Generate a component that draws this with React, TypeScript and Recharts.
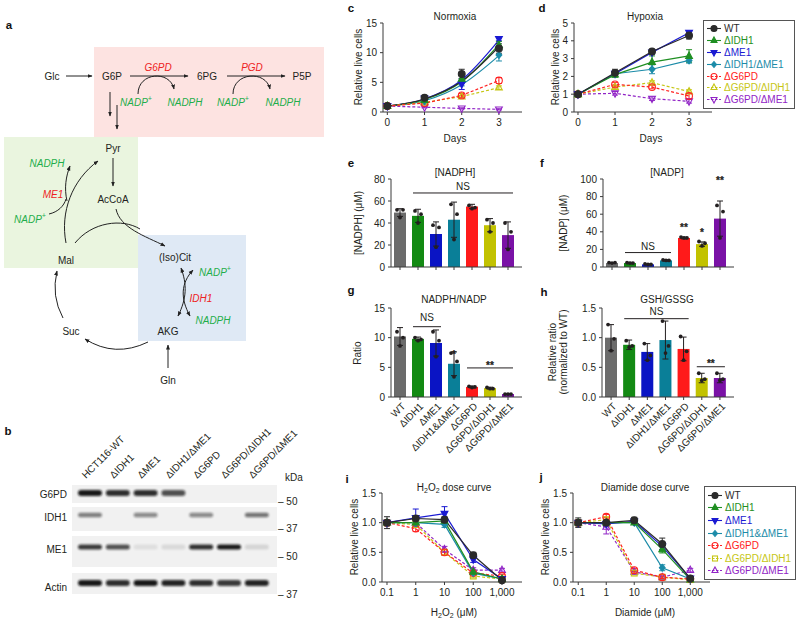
import React from 'react';
import {
  ComposedChart, Line, Bar, Cell, XAxis, YAxis, ErrorBar,
  ReferenceLine, ReferenceDot, Legend,
} from 'recharts';

const FONT = '"Liberation Sans", Arial, Helvetica, sans-serif';
const INK = '#231f20';
const AXIS = '#3a3a3a';
const GREEN = '#1fae4b';
const RED = '#ee2222';

// series order everywhere: WT, ΔIDH1, ΔME1, ΔIDH1/ΔME1, ΔG6PD, ΔG6PD/ΔIDH1, ΔG6PD/ΔME1
const KEYS = ['wt', 'idh1', 'me1', 'dko', 'g6pd', 'g6pdIdh1', 'g6pdMe1'];

// c – normoxia growth
const days = [0, 1, 2, 3];
const normoxiaMean = [
  [1, 2.4, 6.4, 10.7],
  [1, 2.0, 5.6, 11.3],
  [1, 2.3, 4.7, 12.3],
  [1, 1.8, 5.0, 9.6],
  [1, 1.5, 2.8, 5.3],
  [1, 1.6, 2.6, 4.1],
  [1, 0.8, 0.6, 0.45],
];
const normoxiaSd = [
  [0.1, 0.3, 0.8, 0.8],
  [0.1, 0.2, 0.6, 0.6],
  [0.1, 0.3, 0.9, 0.3],
  [0.1, 0.2, 0.6, 1.0],
  [0.1, 0.2, 0.3, 0.5],
  [0.1, 0.2, 0.2, 0.3],
  [0.05, 0.1, 0.1, 0.1],
];
// exponential fits drawn for the solid series
const normoxiaFit = [
  [1, 2.2, 5.2, 11.0],
  [1, 2.1, 5.1, 11.4],
  [1, 2.2, 5.4, 12.1],
  [1, 1.9, 4.6, 9.5],
];

// d – hypoxia growth
const hypoxiaMean = [
  [1, 2.2, 3.4, 4.3],
  [1, 2.1, 2.8, 3.15],
  [1, 2.15, 3.35, 4.45],
  [1, 2.15, 2.4, 2.9],
  [1, 1.55, 1.4, 0.9],
  [1, 1.4, 1.65, 1.15],
  [1, 1.05, 0.75, 0.6],
];
const hypoxiaSd = [
  [0.05, 0.2, 0.1, 0.2],
  [0.05, 0.15, 0.35, 0.35],
  [0.05, 0.1, 0.1, 0.1],
  [0.05, 0.1, 0.25, 0.15],
  [0.05, 0.1, 0.1, 0.15],
  [0.05, 0.1, 0.1, 0.1],
  [0.05, 0.1, 0.1, 0.1],
];

// i, j – dose curves
const doses = [0.1, 1, 10, 100, 1000];
const h2o2Mean = [
  [1.0, 1.07, 1.05, 0.45, 0.03],
  [1.0, 1.0, 1.03, 0.17, 0.05],
  [1.0, 1.08, 1.15, 0.38, 0.05],
  [1.0, 1.0, 0.97, 0.15, 0.05],
  [1.0, 0.9, 0.5, 0.15, 0.1],
  [1.0, 0.97, 0.5, 0.1, 0.05],
  [1.0, 1.0, 0.55, 0.2, 0.2],
];
const h2o2Sd = [
  [0.1, 0.05, 0.05, 0.05, 0.02],
  [0.05, 0.05, 0.03, 0.03, 0.02],
  [0.05, 0.15, 0.12, 0.05, 0.02],
  [0.05, 0.05, 0.05, 0.03, 0.02],
  [0.05, 0.05, 0.05, 0.03, 0.03],
  [0.05, 0.05, 0.04, 0.03, 0.02],
  [0.05, 0.05, 0.05, 0.04, 0.03],
];
const diamideMean = [
  [1.0, 1.0, 1.04, 0.64, 0.06],
  [1.0, 1.0, 1.0, 0.55, 0.04],
  [1.0, 0.98, 1.02, 0.6, 0.06],
  [1.0, 1.0, 1.0, 0.24, 0.05],
  [1.0, 1.1, 0.2, 0.08, 0.05],
  [1.0, 1.05, 0.15, 0.08, 0.04],
  [1.0, 0.93, 0.17, 0.08, 0.2],
];
const diamideSd = [
  [0.08, 0.05, 0.05, 0.1, 0.02],
  [0.05, 0.05, 0.03, 0.06, 0.02],
  [0.05, 0.05, 0.03, 0.05, 0.02],
  [0.05, 0.03, 0.03, 0.05, 0.02],
  [0.05, 0.04, 0.03, 0.02, 0.02],
  [0.05, 0.04, 0.03, 0.02, 0.02],
  [0.05, 0.12, 0.03, 0.02, 0.03],
];

// e–h bar panels
const catsG = ['WT', 'ΔIDH1', 'ΔME1', 'ΔIDH1&ΔME1', 'ΔG6PD', 'ΔG6PD/ΔIDH1', 'ΔG6PD/ΔME1'];
const catsH = ['WT', 'ΔIDH1', 'ΔME1', 'ΔIDH1/ΔME1', 'ΔG6PD', 'ΔG6PD/ΔIDH1', 'ΔG6PD/ΔME1'];
const nadphMean = [49.5, 46.5, 30, 43, 55, 38, 29];
const nadphSd = [3.5, 6, 11, 16, 2, 6, 12];
const nadphPts = [[52, 52, 45], [51, 48, 40], [38, 36, 18], [57, 48, 25], [56, 54, 53], [43, 40, 32], [40, 32, 16]];
const nadpMean = [4.5, 4.5, 3, 7.5, 33, 26, 55];
const nadpSd = [0.5, 0.8, 0.5, 0.8, 1, 2.5, 20];
const nadpPts = [[5, 5, 4.5], [5, 4.5, 4.5], [3.5, 3, 3], [8, 7.5, 7.5], [34, 33, 33], [29, 27, 24], [70, 63, 33]];
const ratioMean = [10.2, 9.8, 9.1, 5.6, 1.7, 1.5, 0.5];
const ratioSd = [1.5, 0.3, 2.2, 2.0, 0.15, 0.15, 0.05];
const ratioPts = [[11, 10, 8.6], [10, 9.7, 9.5], [11, 9.5, 6.8], [7.4, 6, 3.4], [1.8, 1.7, 1.6], [1.6, 1.4, 1.4], [0.5, 0.5, 0.5]];
const gshMean = [1.0, 0.88, 0.76, 0.96, 0.81, 0.32, 0.32];
const gshSd = [0.22, 0.08, 0.14, 0.32, 0.2, 0.08, 0.08];
const gshPts = [[1.22, 0.98, 0.78], [0.95, 0.86, 0.84], [0.9, 0.7, 0.62], [1.28, 0.86, 0.74], [1.02, 0.77, 0.62], [0.4, 0.3, 0.28], [0.4, 0.3, 0.28]];

const nadphBrackets = [{ from: 'ΔIDH1', to: 'ΔG6PD/ΔME1', y: 67.3, text: 'NS', gap: 2.7 }];
const nadpBrackets = [{ from: 'ΔIDH1', to: 'ΔIDH1&ΔME1', y: 16.4, text: 'NS', gap: 2.4 }];
const nadpStars = [{ at: 'ΔG6PD', y: 45.2, text: '**' }, { at: 'ΔG6PD/ΔIDH1', y: 39, text: '*' }, { at: 'ΔG6PD/ΔME1', y: 97.8, text: '**' }];
const ratioBrackets = [{ from: 'ΔIDH1', to: 'ΔME1', y: 11.85, text: 'NS', gap: 5.7 }, { from: 'ΔG6PD', to: 'ΔG6PD/ΔME1', y: 4.9, text: '**', gap: -1 }];
const ratioStars = [{ at: 'ΔIDH1&ΔME1', y: 7.25, text: '*' }];
const gshBrackets = [{ from: 'ΔIDH1', to: 'ΔG6PD', y: 1.32, text: 'NS', gap: 3.7 }, { from: 'ΔG6PD/ΔIDH1', to: 'ΔG6PD/ΔME1', y: 0.51, text: '**', gap: 0 }];

// b – western blot, relative band darkness per lane
const blotLanes = ['HCT116-WT', 'ΔIDH1', 'ΔME1', 'ΔIDH1/ΔME1', 'ΔG6PD', 'ΔG6PD/ΔIDH1', 'ΔG6PD/ΔME1'];
const bandG6PD = [0.95, 0.85, 0.85, 0.7, 0, 0, 0];
const bandIDH1 = [0.5, 0, 0.45, 0, 0.45, 0, 0.55];
const bandME1 = [0.8, 0.7, 0.08, 0.1, 0.85, 0.95, 0.12];
const bandActin = [0.95, 0.85, 0.95, 0.9, 0.85, 0.8, 0.9];

const BAR_COLORS = ['#6b6b6b', '#138a13', '#0a14c4', '#0a7f98', '#ff1a1a', '#c2c200', '#7a12a6'];

const GROWTH_SERIES = [
  { key: 'wt', name: 'WT', color: '#2b2b2b', marker: 'circle', filled: true, dashed: false },
  { key: 'idh1', name: 'ΔIDH1', color: '#1f8f22', marker: 'up', filled: true, dashed: false },
  { key: 'me1', name: 'ΔME1', color: '#1a1ad2', marker: 'down', filled: true, dashed: false },
  { key: 'dko', name: 'ΔIDH1/ΔME1', color: '#1b8ba8', marker: 'diamond', filled: true, dashed: false },
  { key: 'g6pd', name: 'ΔG6PD', color: '#ff2222', marker: 'circle', filled: false, dashed: true },
  { key: 'g6pdIdh1', name: 'ΔG6PD/ΔIDH1', color: '#c6c614', marker: 'up', filled: false, dashed: true },
  { key: 'g6pdMe1', name: 'ΔG6PD/ΔME1', color: '#9124c6', marker: 'down', filled: false, dashed: true },
];
const DOSE_SERIES = GROWTH_SERIES.map((s) =>
  s.key === 'dko' ? { ...s, name: 'ΔIDH1&ΔME1' }
    : s.key === 'g6pdIdh1' ? { ...s, marker: 'square' }
      : s.key === 'g6pdMe1' ? { ...s, marker: 'up' } : s);

function buildRows(xKey: string, xs: number[], mean: number[][], sd: number[][], fit?: number[][]) {
  return xs.map((x, i) => {
    const row: any = { [xKey]: x };
    KEYS.forEach((k, s) => {
      row[k] = mean[s][i];
      row[k + '_sd'] = sd[s][i];
      if (fit && fit[s]) row[k + '_fit'] = fit[s][i];
    });
    return row;
  });
}

const normoxiaRows = buildRows('day', days, normoxiaMean, normoxiaSd, normoxiaFit);
const hypoxiaRows = buildRows('day', days, hypoxiaMean, hypoxiaSd);
const h2o2Rows = buildRows('dose', doses, h2o2Mean, h2o2Sd);
const diamideRows = buildRows('dose', doses, diamideMean, diamideSd);

function Marker({ cx, cy, s, r = 3.4 }: any) {
  if (cx == null || cy == null || Number.isNaN(cx) || Number.isNaN(cy)) return null;
  const p = { fill: s.filled ? s.color : 'none', stroke: s.color, strokeWidth: 1.1 };
  switch (s.marker) {
    case 'square':
      return <rect x={cx - r + 0.5} y={cy - r + 0.5} width={2 * r - 1} height={2 * r - 1} {...p} />;
    case 'up':
      return <polygon points={`${cx},${cy - r - 0.5} ${cx + r},${cy + r - 1} ${cx - r},${cy + r - 1}`} {...p} />;
    case 'down':
      return <polygon points={`${cx},${cy + r + 0.5} ${cx + r},${cy - r + 1} ${cx - r},${cy - r + 1}`} {...p} />;
    case 'diamond':
      return <polygon points={`${cx},${cy - r} ${cx + r - 0.5},${cy} ${cx},${cy + r} ${cx - r + 0.5},${cy}`} {...p} />;
    default:
      return <circle cx={cx} cy={cy} r={r} {...p} />;
  }
}

function LegendBox({ series, rowH }: any) {
  return (
    <div style={{ border: '1px solid #555', background: '#fff', padding: '2px 4px 2px 3px', fontFamily: FONT, fontSize: 10 }}>
      {series.map((s: any) => (
        <div key={s.key} style={{ display: 'flex', alignItems: 'center', height: rowH, color: s.color, whiteSpace: 'nowrap' }}>
          <svg width={14} height={9} style={{ overflow: 'visible' }}>
            <line x1={0} y1={4.5} x2={14} y2={4.5} stroke={s.color} strokeWidth={1.1} strokeDasharray={s.dashed ? '2.5 1.5' : undefined} />
            <Marker cx={7} cy={4.5} s={s} r={3} />
          </svg>
          <span style={{ marginLeft: 3 }}>{s.name}</span>
        </div>
      ))}
    </div>
  );
}

const fmtDose = (v: number) => (v === 1000 ? '1,000' : String(v));
const fmt1 = (v: number) => v.toFixed(1);

function CurveChart({ left, top, width, height, axisW, right, rows, xKey, xDomain, xTicks, log, yDomain, yTicks, yFmt, series, fitted, legend }: any) {
  const ordered = [...series].reverse();
  return (
    <div style={{ position: 'absolute', left, top }}>
      <ComposedChart width={width} height={height} data={rows} margin={{ top: 10, right, bottom: 0, left: 0 }}>
        <XAxis type="number" dataKey={xKey} scale={log ? 'log' : 'linear'} domain={xDomain} ticks={xTicks}
          interval={0} height={22} tickSize={3} tickMargin={4} stroke={AXIS}
          tick={{ fill: INK, fontSize: 10 }} tickFormatter={log ? fmtDose : undefined} />
        <YAxis type="number" domain={yDomain} ticks={yTicks} interval={0} width={axisW} tickSize={3}
          tickMargin={3} stroke={AXIS} tick={{ fill: INK, fontSize: 10 }} tickFormatter={yFmt} />
        {fitted && ordered.filter((s: any) => !s.dashed).map((s: any) => (
          <Line key={s.key + '-fit'} dataKey={s.key + '_fit'} type="monotone" stroke={s.color} strokeWidth={1.2}
            dot={false} activeDot={false} isAnimationActive={false} legendType="none" />
        ))}
        {ordered.map((s: any) => (
          <Line key={s.key} dataKey={s.key} type="linear"
            stroke={fitted && !s.dashed ? 'none' : s.color} strokeWidth={1.2}
            strokeDasharray={s.dashed ? '3 2' : undefined}
            dot={(p: any) => <Marker key={s.key + '-' + p.index} cx={p.cx} cy={p.cy} s={s} />}
            activeDot={false} isAnimationActive={false}>
            <ErrorBar dataKey={s.key + '_sd'} width={3} stroke={s.color} strokeWidth={1} direction="y" />
          </Line>
        ))}
        {legend && (
          <Legend layout="vertical" align="center" verticalAlign="middle"
            wrapperStyle={{ left: legend.left, top: legend.top, width: 'auto', height: 'auto' }}
            content={() => <LegendBox series={series} rowH={legend.rowH} />} />
        )}
      </ComposedChart>
    </div>
  );
}

function SlantTick({ x, y, payload }: any) {
  const ax = x + 6;
  const ay = y + 5;
  return (
    <text x={ax} y={ay} transform={`rotate(-45 ${ax} ${ay})`} textAnchor="end" fontSize={10} fill={INK}>
      {payload.value}
    </text>
  );
}

// significance asterisks: drawn with a hairline stroke so they render solid black
function Stars({ x, y, dy, text }: any) {
  return (
    <text x={x} y={y} dy={dy} textAnchor="middle" fontSize={10} fontWeight="bold" fill={INK}
      stroke={INK} strokeWidth={0.25}>{text}</text>
  );
}

const JIT = [-3, 3, 0];

function BarPanel({ left, top, width, height, axisW, right, xHeight, cats, mean, sd, pts, yDomain, yTicks, yFmt, slanted, brackets, stars }: any) {
  const rows = cats.map((c: string, i: number) => ({
    cat: c, mean: mean[i], sd: sd[i], p0: pts[i][0], p1: pts[i][1], p2: pts[i][2],
  }));
  return (
    <div style={{ position: 'absolute', left, top }}>
      <ComposedChart width={width} height={height} data={rows} margin={{ top: 10, right, bottom: 0, left: 0 }}>
        <XAxis dataKey="cat" type="category" interval={0} padding={{ left: 0, right: 5 }} height={xHeight}
          tickSize={3} tickMargin={2} stroke={AXIS}
          tick={slanted ? <SlantTick /> : { fill: INK, fontSize: 10 }}
          tickFormatter={slanted ? undefined : () => ''} />
        <YAxis type="number" domain={yDomain} ticks={yTicks} interval={0} width={axisW} tickSize={3}
          tickMargin={3} stroke={AXIS} tick={{ fill: INK, fontSize: 10 }} tickFormatter={yFmt} />
        <Bar dataKey="mean" barSize={12} isAnimationActive={false}>
          {rows.map((r: any, i: number) => <Cell key={r.cat} fill={BAR_COLORS[i]} />)}
          <ErrorBar dataKey="sd" width={3} stroke={INK} strokeWidth={1} direction="y" />
        </Bar>
        {['p0', 'p1', 'p2'].map((k, j) => (
          <Line key={k} dataKey={k} stroke="none" legendType="none" activeDot={false} isAnimationActive={false}
            dot={(p: any) => (p.cy == null ? null
              : <circle key={k + '-' + p.index} cx={p.cx + JIT[j]} cy={p.cy} r={1.9} fill={INK} />)} />
        ))}
        {(brackets || []).map((b: any) => (
          <ReferenceLine key={b.from + b.to} segment={[{ x: b.from, y: b.y }, { x: b.to, y: b.y }]}
            stroke={INK}
            shape={(p: any) => (
              <g>
                <line x1={p.x1 - 5} x2={p.x2 + 5} y1={p.y1} y2={p.y2} stroke={INK} strokeWidth={1} />
                {b.text === 'NS'
                  ? <text x={(p.x1 + p.x2) / 2} y={p.y1 - b.gap} textAnchor="middle" fontSize={10} fill={INK}>{b.text}</text>
                  : <Stars x={(p.x1 + p.x2) / 2} y={p.y1 - b.gap} dy={0} text={b.text} />}
              </g>
            )} />
        ))}
        {(stars || []).map((s: any) => (
          <ReferenceDot key={s.at} x={s.at} y={s.y} r={1}
            shape={(p: any) => <Stars x={p.cx} y={p.cy} dy="0.355em" text={s.text} />} />
        ))}
      </ComposedChart>
    </div>
  );
}

function Nadp({ x, y, color = GREEN, anchor = 'middle' }: any) {
  return (
    <text x={x} y={y} fill={color} fontStyle="italic" fontSize={10} textAnchor={anchor} dominantBaseline="central">
      NADP<tspan fontSize={7} dy={-4}>+</tspan>
    </text>
  );
}

function T({ x, y, children, color = INK, italic = false, size = 10, anchor = 'middle', rotate = 0, bold = false }: any) {
  return (
    <text x={x} y={y} fill={color} fontSize={size} textAnchor={anchor} dominantBaseline="central"
      fontStyle={italic ? 'italic' : undefined} fontWeight={bold ? 'bold' : undefined}
      transform={rotate ? `rotate(${rotate} ${x} ${y})` : undefined}>
      {children}
    </text>
  );
}

function Pathway() {
  const arr = { stroke: '#222', strokeWidth: 1, fill: 'none', markerEnd: 'url(#ah)' };
  const plain = { stroke: '#222', strokeWidth: 1, fill: 'none' };
  const both = { ...arr, markerStart: 'url(#ah)' };
  return (
    <g>
      <rect x={94} y={47} width={230} height={90} fill="#fde3e1" />
      <rect x={4} y={137} width={134} height={131} fill="#eaf5df" />
      <rect x={138} y={235} width={108} height={106} fill="#dfe9f5" />
      <T x={52} y={76}>Glc</T>
      <T x={112} y={76}>G6P</T>
      <T x={207} y={76}>6PG</T>
      <T x={302} y={76}>P5P</T>
      <T x={158} y={67} color={RED} italic>G6PD</T>
      <T x={252} y={67} color={RED} italic>PGD</T>
      <Nadp x={136} y={102} />
      <T x={185} y={102} color={GREEN} italic>NADPH</T>
      <Nadp x={233} y={102} />
      <T x={283} y={102} color={GREEN} italic>NADPH</T>
      <path d="M66,76 H92" {...arr} />
      <path d="M130,76 H188" {...arr} />
      <path d="M227,76 H285" {...arr} />
      <path d="M138,94 C138,72 170,70 174,89" {...arr} />
      <path d="M233,94 C233,72 266,70 270,89" {...arr} />
      <path d="M110,92 V116" {...arr} />
      <path d="M117,105 V129" {...arr} />
      <T x={113} y={148}>Pyr</T>
      <path d="M113,158 V186" {...arr} />
      <T x={113} y={199}>AcCoA</T>
      <T x={47} y={163} color={GREEN} italic>NADPH</T>
      <T x={53} y={194} color={RED} italic>ME1</T>
      <Nadp x={30} y={219} />
      <T x={66} y={260}>Mal</T>
      <path d="M66,243 C60,212 72,180 98,161" {...arr} />
      <path d="M67,201 C64,188 66,176 70,166" {...arr} />
      <path d="M49,214 C58,212 64,206 66,199" {...plain} />
      <path d="M75,243 C92,222 122,218 140,229" {...plain} />
      <path d="M116,209 C120,228 145,236 165,246" {...arr} />
      <T x={175} y={257}>(Iso)Cit</T>
      <Nadp x={215} y={272} />
      <T x={201} y={298} color={RED} italic>IDH1</T>
      <T x={213} y={320} color={GREEN} italic>NADPH</T>
      <path d="M178,316 C187,298 187,284 181,268" {...both} />
      <path d="M190,316 C180,298 181,283 193,270" {...both} />
      <T x={168} y={331}>AKG</T>
      <T x={71} y={331}>Suc</T>
      <T x={168} y={380}>Gln</T>
      <path d="M168,368 V345" {...arr} />
      <path d="M148,342 Q115,358 85,339" {...arr} />
      <path d="M63,318 Q51,296 57,271" {...arr} />
    </g>
  );
}

const laneX = (i: number) => 90 + i * 27.8;

function Blot() {
  const rows = [
    { name: 'G6PD', top: 485, h: 18, by: 493, bh: 6, v: bandG6PD, ly: 494 },
    { name: 'IDH1', top: 507, h: 24, by: 515, bh: 4.5, v: bandIDH1, ly: 517 },
    { name: 'ME1', top: 536, h: 31, by: 547, bh: 5, v: bandME1, ly: 549 },
    { name: 'Actin', top: 573, h: 21, by: 583, bh: 6, v: bandActin, ly: 587 },
  ];
  return (
    <g>
      {blotLanes.map((n, i) => {
        const x = laneX(i) - 4;
        return (
          <text key={n} x={x} y={479} fontSize={10} fill={INK} transform={`rotate(-45 ${x} 479)`}>{n}</text>
        );
      })}
      <text x={285} y={481} fontSize={10} fill={INK}>kDa</text>
      {rows.map((r) => (
        <g key={r.name}>
          <rect x={72} y={r.top} width={205} height={r.h} fill="#f1f1f1" />
          {r.v.map((o, i) => (o > 0 ? (
            <rect key={i} x={laneX(i) - 12} y={r.by - r.bh / 2} width={24} height={r.bh} rx={r.bh / 2}
              fill="#111" opacity={o} filter="url(#blur)" />
          ) : null))}
          <T x={67} y={r.ly} anchor="end">{r.name}</T>
        </g>
      ))}
      <T x={278} y={501} anchor="start">– 50</T>
      <T x={278} y={528.5} anchor="start">– 37</T>
      <T x={278} y={556.5} anchor="start">– 50</T>
      <T x={278} y={594} anchor="start">– 37</T>
    </g>
  );
}

function Sub({ children }: any) {
  return <tspan fontSize={7} dy={3}>{children}</tspan>;
}

function Labels() {
  const letters: [string, number, number][] = [
    ['a', 9, 29], ['b', 8, 435], ['c', 351, 12], ['d', 542, 12], ['e', 351, 167], ['f', 542, 167],
    ['g', 351, 294], ['h', 544, 296], ['i', 347, 483], ['j', 541, 481],
  ];
  return (
    <g>
      {letters.map(([t, x, y]) => (
        <text key={t} x={x} y={y} fontSize={11.5} fontWeight="bold" textAnchor="middle" fill="#111">{t}</text>
      ))}
      <T x={455} y={16}>Normoxia</T>
      <T x={645} y={16}>Hypoxia</T>
      <T x={455} y={138}>Days</T>
      <T x={651} y={138}>Days</T>
      <T x={358} y={67} rotate={-90}>Relative live cells</T>
      <T x={555} y={67} rotate={-90}>Relative live cells</T>
      <T x={455} y={172}>[NADPH]</T>
      <T x={667} y={172}>[NADP]</T>
      <T x={358} y={223} rotate={-90}>[NADPH] (μM)</T>
      <T x={563} y={223} rotate={-90}>[NADP] (μM)</T>
      <T x={454} y={299}>NADPH/NADP</T>
      <T x={667} y={299}>GSH/GSSG</T>
      <T x={357} y={353} rotate={-90}>Ratio</T>
      <T x={552} y={352} rotate={-90}>Relative ratio</T>
      <T x={563} y={352} rotate={-90}>(normalized to WT)</T>
      <text x={454} y={487} fontSize={10} fill={INK} textAnchor="middle" dominantBaseline="central">
        H<Sub>2</Sub><tspan dy={-3}>O</tspan><Sub>2</Sub><tspan dy={-3}> dose curve</tspan>
      </text>
      <T x={645} y={487}>Diamide dose curve</T>
      <text x={454} y={612} fontSize={10} fill={INK} textAnchor="middle" dominantBaseline="central">
        H<Sub>2</Sub><tspan dy={-3}>O</tspan><Sub>2</Sub><tspan dy={-3}> (μM)</tspan>
      </text>
      <T x={645} y={612}>Diamide (μM)</T>
      <T x={354} y={537} rotate={-90}>Relative live cells</T>
      <T x={545} y={537} rotate={-90}>Relative live cells</T>
    </g>
  );
}

export default function App() {
  return (
    <div style={{ position: 'absolute', left: 0, top: 0, width: 800, height: 621, background: '#fff', overflow: 'hidden', fontFamily: FONT, color: INK }}>
      <svg width={800} height={621} style={{ position: 'absolute', left: 0, top: 0 }} fontFamily={FONT}>
        <defs>
          <marker id="ah" viewBox="0 0 10 10" refX="9" refY="5" markerWidth="5" markerHeight="5" orient="auto-start-reverse">
            <path d="M0,1 L10,5 L0,9 z" fill="#222" />
          </marker>
          <filter id="blur" x="-30%" y="-80%" width="160%" height="260%">
            <feGaussianBlur stdDeviation="1.1" />
          </filter>
        </defs>
        <Pathway />
        <Blot />
        <Labels />
      </svg>

      <CurveChart left={353} top={13} width={169} height={121} axisW={30} right={0}
        rows={normoxiaRows} xKey="day" xDomain={[-0.116, 3.62]} xTicks={[0, 1, 2, 3]}
        yDomain={[0, 15]} yTicks={[0, 5, 10, 15]} series={GROWTH_SERIES} fitted />
      <CurveChart left={548} top={13} width={247} height={121} axisW={26} right={83}
        rows={hypoxiaRows} xKey="day" xDomain={[-0.108, 3.62]} xTicks={[0, 1, 2, 3]}
        yDomain={[0, 5]} yTicks={[0, 1, 2, 3, 4, 5]} series={GROWTH_SERIES}
        legend={{ left: 155, top: 7, rowH: 11.8 }} />

      <BarPanel left={353} top={169} width={169} height={106} axisW={38} right={0} xHeight={8}
        cats={catsG} mean={nadphMean} sd={nadphSd} pts={nadphPts}
        yDomain={[0, 80]} yTicks={[0, 20, 40, 60, 80]} brackets={nadphBrackets} />
      <BarPanel left={548} top={169} width={186} height={106} axisW={55} right={0} xHeight={8}
        cats={catsG} mean={nadpMean} sd={nadpSd} pts={nadpPts}
        yDomain={[0, 100]} yTicks={[0, 20, 40, 60, 80, 100]} brackets={nadpBrackets} stars={nadpStars} />

      <BarPanel left={353} top={298} width={169} height={169} axisW={38} right={0} xHeight={70}
        cats={catsG} mean={ratioMean} sd={ratioSd} pts={ratioPts}
        yDomain={[0, 15]} yTicks={[0, 5, 10, 15]} slanted brackets={ratioBrackets} stars={ratioStars} />
      <BarPanel left={548} top={298} width={186} height={169} axisW={54} right={0} xHeight={70}
        cats={catsH} mean={gshMean} sd={gshSd} pts={gshPts}
        yDomain={[0, 1.5]} yTicks={[0, 0.5, 1, 1.5]} yFmt={fmt1} slanted brackets={gshBrackets} />

      <CurveChart left={353} top={483} width={169} height={121} axisW={29} right={0}
        rows={h2o2Rows} xKey="dose" xDomain={[0.067, 4966]} xTicks={doses} log
        yDomain={[0, 1.5]} yTicks={[0, 0.5, 1, 1.5]} yFmt={fmt1} series={DOSE_SERIES} />
      <CurveChart left={548} top={483} width={250} height={121} axisW={25} right={88}
        rows={diamideRows} xKey="dose" xDomain={[0.065, 5070]} xTicks={doses} log
        yDomain={[0, 1.5]} yTicks={[0, 0.5, 1, 1.5]} yFmt={fmt1} series={DOSE_SERIES}
        legend={{ left: 156, top: 3, rowH: 12.6 }} />
    </div>
  );
}
